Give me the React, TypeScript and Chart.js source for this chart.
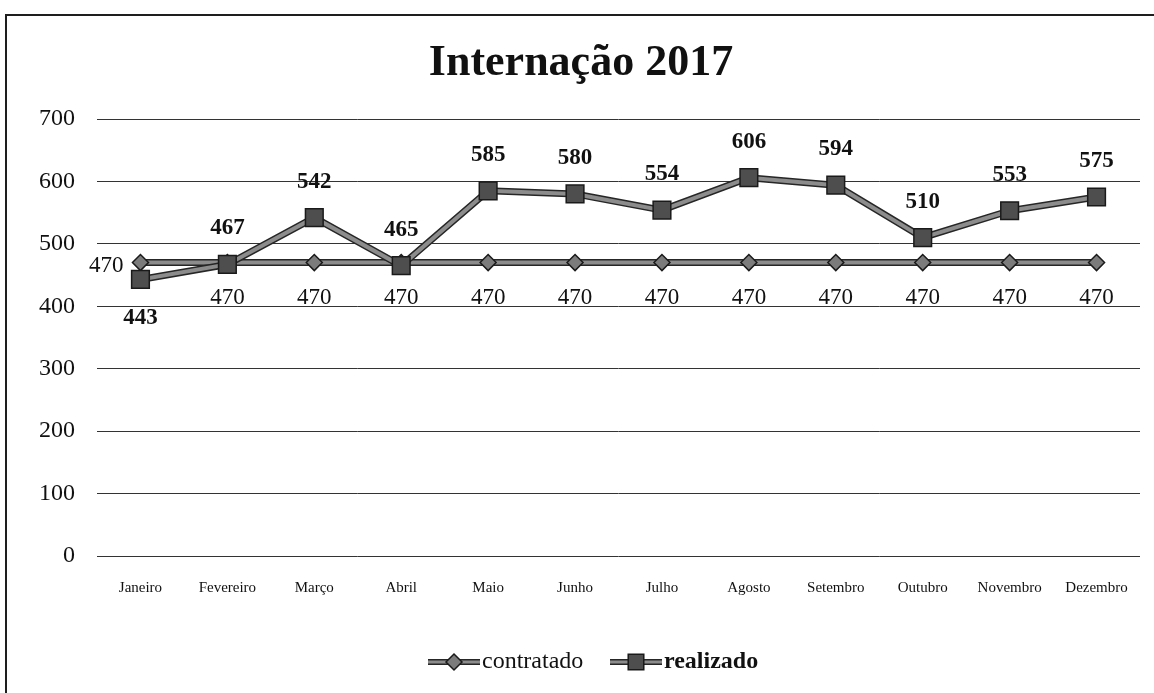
import React, { useEffect, useRef } from "react";
import { Chart, registerables } from "chart.js";

Chart.register(...registerables);

const titleText = "Internação 2017";
const months = [
  "Janeiro", "Fevereiro", "Março", "Abril", "Maio", "Junho",
  "Julho", "Agosto", "Setembro", "Outubro", "Novembro", "Dezembro",
];
const contratado = [470, 470, 470, 470, 470, 470, 470, 470, 470, 470, 470, 470];
const realizado = [443, 467, 542, 465, 585, 580, 554, 606, 594, 510, 553, 575];
const seriesNames = ["contratado", "realizado"];
const yMin = 0;
const yMax = 700;
const yStep = 100;

const SERIF = '"Liberation Serif", "Times New Roman", serif';

const outlinePlugin = {
  id: "outline",
  beforeDatasetDraw(chart: any, args: any) {
    const pts = args.meta.data;
    if (!pts || !pts.length) return;
    const ctx = chart.ctx;
    ctx.save();
    ctx.strokeStyle = "#262626";
    ctx.lineWidth = 7;
    ctx.lineJoin = "round";
    ctx.beginPath();
    pts.forEach((p: any, i: number) => (i ? ctx.lineTo(p.x, p.y) : ctx.moveTo(p.x, p.y)));
    ctx.stroke();
    ctx.restore();
  },
};

const decorPlugin = {
  id: "decor",
  afterDatasetsDraw(chart: any) {
    const ctx = chart.ctx;
    ctx.save();
    chart.data.datasets.forEach((ds: any, di: number) => {
      const meta = chart.getDatasetMeta(di);
      meta.data.forEach((p: any, i: number) => {
        const v = ds.data[i];
        ctx.fillStyle = "#111";
        ctx.textBaseline = "middle";
        if (ds.label === "realizado") {
          ctx.font = `bold 23px ${SERIF}`;
          ctx.textAlign = "center";
          const below = i === 0;
          ctx.fillText(String(v), p.x, below ? p.y + 39 : p.y - 36);
        } else {
          ctx.font = `23px ${SERIF}`;
          if (i === 0) {
            ctx.textAlign = "right";
            ctx.fillText(String(v), p.x - 17, p.y + 3);
          } else {
            ctx.textAlign = "center";
            ctx.fillText(String(v), p.x, p.y + 35);
          }
        }
      });
    });
    ctx.restore();
  },
  afterDraw(chart: any) {
    const ctx = chart.ctx;
    ctx.save();
    ctx.strokeStyle = "#1e1e1e";
    ctx.lineWidth = 2;
    ctx.beginPath();
    ctx.moveTo(6, 693);
    ctx.lineTo(6, 15);
    ctx.lineTo(1154, 15);
    ctx.stroke();
    ctx.fillStyle = "#111";
    ctx.font = `bold 44px ${SERIF}`;
    ctx.textAlign = "center";
    ctx.textBaseline = "alphabetic";
    ctx.fillText(titleText, 581, 75);
    const ly = 662;
    const items = [
      { name: seriesNames[0], x0: 428, style: "rectRot", r: 8, bg: "#7c7c7c", bold: false },
      { name: seriesNames[1], x0: 610, style: "rect", r: 11, bg: "#4e4e4e", bold: true },
    ];
    items.forEach((it) => {
      ctx.strokeStyle = "#262626";
      ctx.lineWidth = 6;
      ctx.beginPath();
      ctx.moveTo(it.x0, ly);
      ctx.lineTo(it.x0 + 52, ly);
      ctx.stroke();
      ctx.strokeStyle = "#8c8c8c";
      ctx.lineWidth = 3;
      ctx.beginPath();
      ctx.moveTo(it.x0, ly);
      ctx.lineTo(it.x0 + 52, ly);
      ctx.stroke();
      ctx.fillStyle = it.bg;
      ctx.strokeStyle = "#1a1a1a";
      ctx.lineWidth = 1.5;
      ctx.beginPath();
      const cx = it.x0 + 26;
      if (it.style === "rect") {
        const s = Math.SQRT1_2 * it.r;
        ctx.rect(cx - s, ly - s, 2 * s, 2 * s);
      } else {
        ctx.moveTo(cx, ly - it.r);
        ctx.lineTo(cx + it.r, ly);
        ctx.lineTo(cx, ly + it.r);
        ctx.lineTo(cx - it.r, ly);
        ctx.closePath();
      }
      ctx.fill();
      ctx.stroke();
      ctx.fillStyle = "#111";
      ctx.font = `${it.bold ? "bold " : ""}24px ${SERIF}`;
      ctx.textAlign = "left";
      ctx.textBaseline = "middle";
      ctx.fillText(it.name, it.x0 + 54, ly);
    });
    ctx.restore();
  },
};

export default function App() {
  const ref = useRef<HTMLCanvasElement | null>(null);
  useEffect(() => {
    if (!ref.current) return;
    const chart = new Chart(ref.current, {
      type: "line",
      data: {
        labels: months,
        datasets: [
          {
            label: seriesNames[0],
            data: contratado,
            order: 1,
            borderColor: "#8c8c8c",
            borderWidth: 4,
            pointStyle: "rectRot",
            pointRadius: 8,
            pointBackgroundColor: "#7c7c7c",
            pointBorderColor: "#1a1a1a",
            pointBorderWidth: 1.5,
            tension: 0,
          },
          {
            label: seriesNames[1],
            data: realizado,
            order: 0,
            borderColor: "#8c8c8c",
            borderWidth: 4,
            pointStyle: "rect",
            pointRadius: 12.5,
            pointBackgroundColor: "#4e4e4e",
            pointBorderColor: "#1a1a1a",
            pointBorderWidth: 1.5,
            tension: 0,
          },
        ],
      },
      options: {
        animation: false,
        responsive: false,
        events: [],
        layout: { padding: { top: 119, right: 14, bottom: 87, left: 0 } },
        plugins: {
          legend: { display: false },
          title: { display: false },
          tooltip: { enabled: false },
        },
        scales: {
          x: {
            offset: true,
            grid: { display: false, drawTicks: false },
            border: { display: false },
            ticks: {
              color: "#111",
              font: { family: SERIF, size: 15 },
              padding: 23,
              maxRotation: 0,
              autoSkip: false,
            },
            afterFit(scale: any) {
              scale.height = 50;
            },
          },
          y: {
            min: yMin,
            max: yMax,
            grid: { color: "#333", lineWidth: 1, drawTicks: false },
            border: { display: false },
            ticks: {
              stepSize: yStep,
              color: "#111",
              font: { family: SERIF, size: 24 },
              padding: 22,
            },
            afterFit(scale: any) {
              scale.width = 97;
            },
          },
        },
      },
      plugins: [outlinePlugin, decorPlugin],
    });
    return () => chart.destroy();
  }, []);
  return (
    <div style={{ position: "fixed", left: 0, top: 0, width: 1154, height: 693, background: "#fff" }}>
      <canvas ref={ref} width={1154} height={693} style={{ display: "block" }} />
    </div>
  );
}
